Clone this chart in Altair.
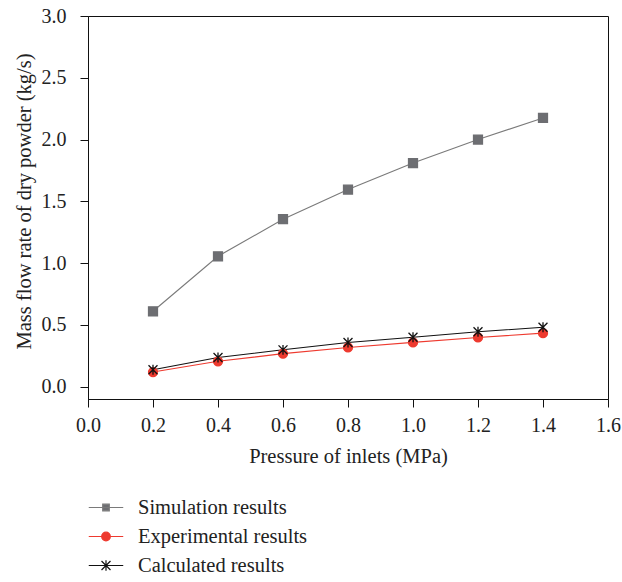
import altair as alt
import pandas as pd

# Inlet pressure (MPa) and mass flow rate of dry powder (kg/s)
pressure = [0.2, 0.4, 0.6, 0.8, 1.0, 1.2, 1.4]
simulation = [0.61, 1.055, 1.355, 1.595, 1.81, 2.0, 2.175]
experimental = [0.118, 0.205, 0.267, 0.317, 0.358, 0.398, 0.433]
calculated = [0.137, 0.236, 0.298, 0.357, 0.400, 0.444, 0.481]

series_names = ["Simulation results", "Experimental results", "Calculated results"]
series_colors = ["#6d6e72", "#ee3a2f", "#111111"]
line_colors = ["#7a7a7a", "#ee3a2f", "#111111"]

x_ticks = [0.0, 0.1, 0.2, 0.3, 0.4, 0.5, 0.6, 0.7, 0.8, 0.9, 1.0, 1.1, 1.2, 1.3, 1.4, 1.5, 1.6]
y_ticks = [0.0, 0.25, 0.5, 0.75, 1.0, 1.25, 1.5, 1.75, 2.0, 2.25, 2.5, 2.75, 3.0]

rows = []
for name, vals in zip(series_names, [simulation, experimental, calculated]):
    for p, v in zip(pressure, vals):
        rows.append({"pressure": p, "flow": v, "series": name})
df = pd.DataFrame(rows)

FONT = "Liberation Serif"

# marker shapes (unit coordinates)
asterisk = "M-1,-1L1,1M-1,1L1,-1M0,-1.1L0,1.1"
point_shapes = ["square", "circle", asterisk]

# legend symbols: a short line with the marker in its middle
legend_shapes = [
    "M-1,0H1M-0.19,-0.19H0.19V0.19H-0.19Z",
    "M-1,0H1M-0.25,0A0.25,0.25 0 1,0 0.25,0A0.25,0.25 0 1,0 -0.25,0Z",
    "M-1,0H1M-0.26,-0.26L0.26,0.26M-0.26,0.26L0.26,-0.26M0,-0.3L0,0.3",
]

x_enc = alt.X(
    "pressure:Q",
    scale=alt.Scale(domain=[0, 1.6], nice=False, zero=False),
    axis=alt.Axis(
        title="Pressure of inlets (MPa)",
        values=x_ticks,
        format=".1f",
        labelExpr="abs(datum.value*5 - round(datum.value*5)) < 0.01 ? format(datum.value, '.1f') : ''",
        tickSize={"condition": {"test": "abs(datum.value*5 - round(datum.value*5)) < 0.01", "value": 8}, "value": 5},
        labelPadding=8,
        labelFlush=False,
        labelOverlap=False,
        titleY=57,
        titleBaseline="middle",
    ),
)
y_enc = alt.Y(
    "flow:Q",
    scale=alt.Scale(domain=[-0.1, 3.0], nice=False, zero=False),
    axis=alt.Axis(
        title="Mass flow rate of dry powder (kg/s)",
        values=y_ticks,
        format=".1f",
        labelExpr="abs(datum.value*2 - round(datum.value*2)) < 0.01 ? format(datum.value, '.1f') : ''",
        tickSize={"condition": {"test": "abs(datum.value*2 - round(datum.value*2)) < 0.01", "value": 8}, "value": 3},
        labelPadding=14,
        labelFlush=False,
        labelOverlap=False,
        titleX=-64,
        titleY=185,
        titleAngle=270,
        titleAlign="center",
        titleBaseline="middle",
    ),
)

base = alt.Chart(df)

lines = base.mark_line(strokeWidth=1.1).encode(
    x=x_enc,
    y=y_enc,
    color=alt.Color("series:N", scale=alt.Scale(domain=series_names, range=line_colors), legend=None),
    detail="series:N",
)

points = base.mark_point(filled=True, strokeWidth=1.3, opacity=1).encode(
    x="pressure:Q",
    y="flow:Q",
    fill=alt.Fill("series:N", scale=alt.Scale(domain=series_names, range=series_colors), legend=None),
    stroke=alt.Stroke("series:N", scale=alt.Scale(domain=series_names, range=series_colors), legend=None),
    shape=alt.Shape("series:N", scale=alt.Scale(domain=series_names, range=point_shapes), legend=None),
    size=alt.value(80),
    order=alt.Order("series:N", sort="descending"),
)

legend_def = alt.Legend(
    title=None,
    orient="none",
    legendX=0,
    legendY=477,
    direction="vertical",
    symbolSize=1190,
    symbolStrokeWidth=1.2,
    labelFont=FONT,
    labelFontSize=20.5,
    labelColor="#222222",
    labelOffset=14,
    labelLimit=400,
    clipHeight=29,
    rowPadding=0,
    padding=0,
)

legend_layer = base.mark_point(filled=True, opacity=1).encode(
    x="pressure:Q",
    y="flow:Q",
    fill=alt.Fill("series:N", scale=alt.Scale(domain=series_names, range=series_colors), legend=legend_def),
    stroke=alt.Stroke("series:N", scale=alt.Scale(domain=series_names, range=line_colors), legend=legend_def),
    shape=alt.Shape("series:N", scale=alt.Scale(domain=series_names, range=legend_shapes), legend=legend_def),
).transform_filter("false")

chart = (
    alt.layer(lines, points, legend_layer)
    .resolve_scale(fill="independent", stroke="independent", shape="independent")
    .properties(
        width=520,
        height=383,
        autosize=alt.AutoSizeParams(type="none"),
        padding={"left": 88, "top": 16, "right": 14, "bottom": 183},
        background="white",
    )
    .configure_view(stroke="#111111", strokeWidth=1)
    .configure_axis(
        grid=False,
        domainColor="#111111",
        tickColor="#111111",
        labelFont=FONT,
        labelFontSize=20,
        labelColor="#222222",
        titleFont=FONT,
        titleFontSize=20.5,
        titleFontWeight="normal",
        titleColor="#222222",
    )
)

chart.save("out.html", embed_options={"renderer": "svg", "actions": False})
